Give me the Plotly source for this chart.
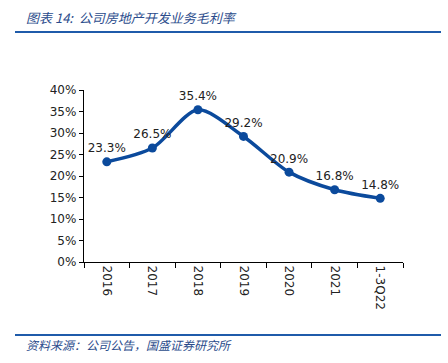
import plotly.graph_objects as go

categories = ["2016", "2017", "2018", "2019", "2020", "2021", "1-3Q22"]
gross_margin = [0.233, 0.265, 0.354, 0.292, 0.209, 0.168, 0.148]
labels = ["23.3%", "26.5%", "35.4%", "29.2%", "20.9%", "16.8%", "14.8%"]

W, H = 448, 363
L, R, T, B = 84, 45, 90, 101
pw, ph = W - L - R, H - T - B

def px(x):
    return (x - L) / pw

def py(y):
    return (H - B - y) / ph

fig = go.Figure()
fig.add_trace(go.Scatter(
    x=categories, y=gross_margin,
    mode="lines+markers+text",
    line=dict(color="#0B4A9C", width=3.5, shape="spline", smoothing=0.8),
    marker=dict(color="#0B4A9C", size=9),
    text=labels, textposition="top center",
    textfont=dict(family="DejaVu Sans", size=12, color="#222222"),
    cliponaxis=False,
    hoverinfo="skip",
))

sep_color = "#1F5BAA"
fig.add_shape(type="line", xref="paper", yref="paper",
              x0=px(15), x1=px(441), y0=py(32), y1=py(32),
              line=dict(color=sep_color, width=2))
fig.add_shape(type="line", xref="paper", yref="paper",
              x0=px(15), x1=px(441), y0=py(335), y1=py(335),
              line=dict(color=sep_color, width=2))

fig.add_annotation(xref="paper", yref="paper", x=px(24), y=py(18),
                   xanchor="left", yanchor="middle", showarrow=False,
                   text="<i>图表 14:  公司房地产开发业务毛利率</i>",
                   font=dict(family="Noto Sans CJK SC", size=13, color="#2B4C8C"))
fig.add_annotation(xref="paper", yref="paper", x=px(24), y=py(344),
                   xanchor="left", yanchor="middle", showarrow=False,
                   text="<i>资料来源：公司公告，国盛证券研究所</i>",
                   font=dict(family="Noto Sans CJK SC", size=12, color="#2B4C8C"))

fig.update_layout(
    width=W, height=H,
    margin=dict(l=L, r=R, t=T, b=B),
    plot_bgcolor="white", paper_bgcolor="white",
    showlegend=False,
    font=dict(family="DejaVu Sans", size=12, color="#222222"),
)
fig.update_xaxes(
    type="category", tickangle=90, showgrid=False,
    showline=True, linecolor="black", linewidth=1.2,
    ticks="outside", ticklen=5, tickcolor="black", tickson="boundaries",
    tickfont=dict(family="DejaVu Sans", size=12, color="#222222"),
    range=[-0.5, 6.5],
)
fig.update_yaxes(
    range=[0, 0.4], dtick=0.05, tickformat=".0%", showgrid=False,
    showline=True, linecolor="black", linewidth=1.2,
    ticks="outside", ticklen=4, tickcolor="black",
    tickfont=dict(family="DejaVu Sans", size=12, color="#222222"),
    zeroline=False,
)

fig.write_html("out.html", config={"displayModeBar": False, "staticPlot": True},
               post_script="document.body.style.margin='0';document.body.style.overflow='hidden';")
